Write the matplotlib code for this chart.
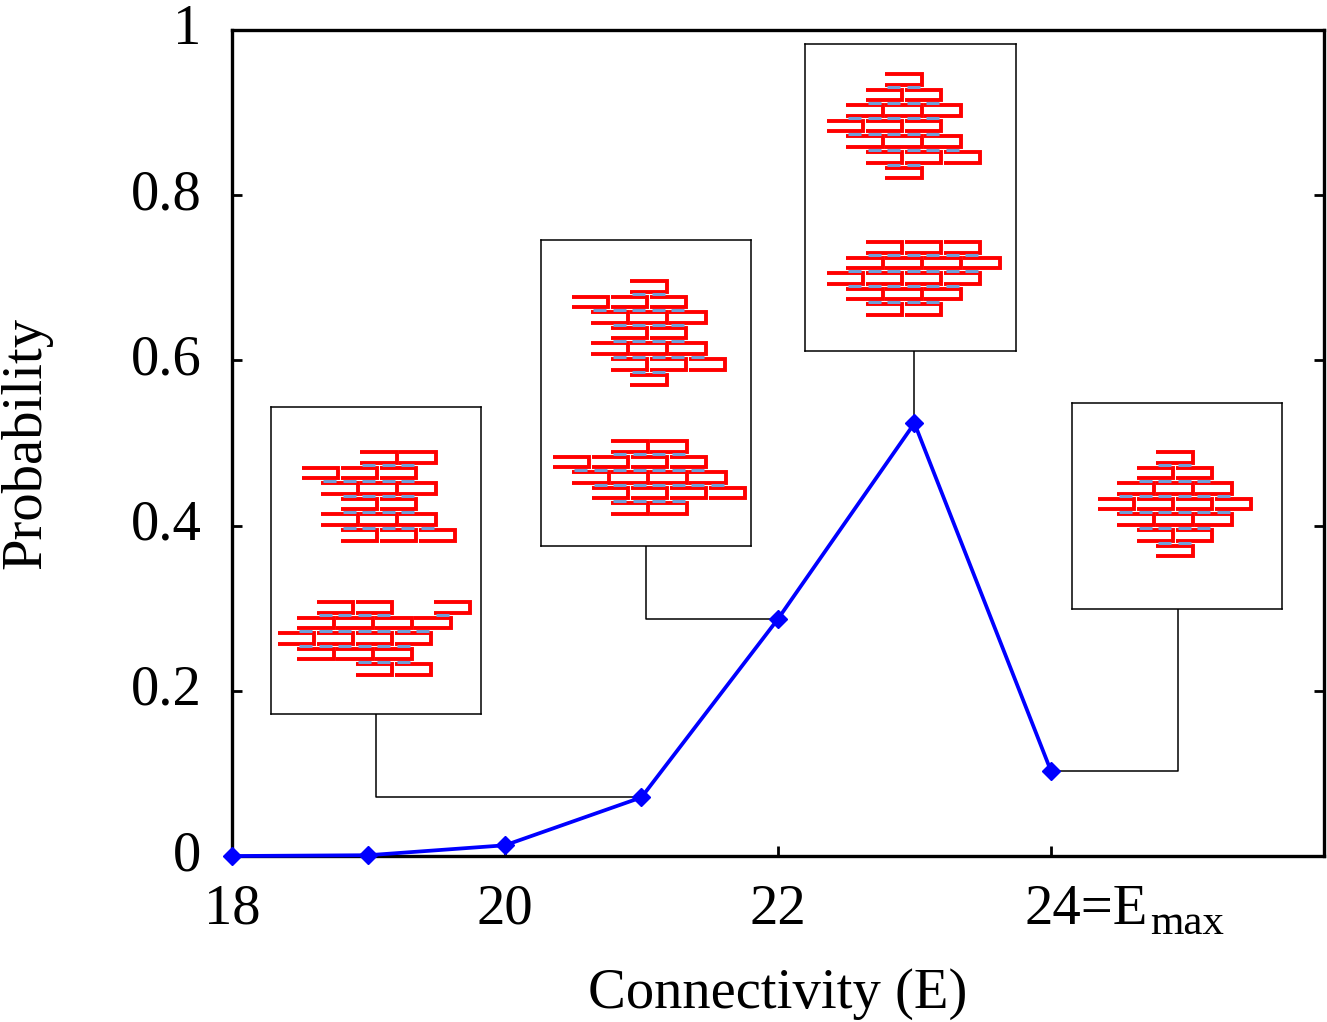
import matplotlib
matplotlib.use("Agg")
import matplotlib.pyplot as plt
from matplotlib.transforms import ScaledTranslation

plt.rcParams["font.family"] = ["Liberation Serif", "DejaVu Serif"]

# probability of each connectivity value
conn = [18, 19, 20, 21, 22, 23, 24]
prob = [0.0, 0.001, 0.013, 0.071, 0.287, 0.524, 0.103]

xticks = [18, 20, 22, 24]
xtick_labels = ["18", "20", "22", "24=E"]
emax_sub = "max"
yticks = [0, 0.2, 0.4, 0.6, 0.8, 1]
ytick_labels = ["0", "0.2", "0.4", "0.6", "0.8", "1"]

# brick layouts: start column of each brick (half-brick units), row by row
bricks_21_top = [[3, 5], [0, 2, 4], [1, 3, 5], [2, 4], [1, 3, 5], [2, 4, 6]]
bricks_21_bot = [[2, 4, 8], [1, 3, 5, 7], [0, 2, 4, 6], [1, 3, 5], [4, 6]]
bricks_22_top = [[3], [0, 2, 4], [1, 3, 5], [2, 4], [1, 3, 5], [2, 4, 6], [3]]
bricks_22_bot = [[3, 5], [0, 2, 4, 6], [1, 3, 5, 7], [2, 4, 6, 8], [3, 5]]
bricks_23_top = [[3], [2, 4], [1, 3, 5], [0, 2, 4], [1, 3, 5], [2, 4, 6], [3]]
bricks_23_bot = [[2, 4, 6], [1, 3, 5, 7], [0, 2, 4, 6], [1, 3, 5], [2, 4]]
bricks_24 = [[3], [2, 4], [1, 3, 5], [0, 2, 4, 6], [1, 3, 5], [2, 4], [3]]

# brick geometry in pixels
HALF = 19.5
BW = 36.5
BH = 10.5
PITCH = 15.6
BOND = 13.0
PX = 1092 / 8.0   # pixels per x unit
PY = 826 / 1.0    # pixels per y unit

# inset: (E, box [x0, y0, w, h] in data, elbow x, [(layout, dx, dy)])
insets = [
    (21, [18.286, 0.1719, 1.5385, 0.3717], 19.055,
     [(bricks_21_top, 31, 45), (bricks_21_bot, 7, 195)]),
    (22, [20.264, 0.3753, 1.5385, 0.3705], 21.033,
     [(bricks_22_top, 31, 41), (bricks_22_bot, 12, 201)]),
    (23, [22.198, 0.6114, 1.5458, 0.3717], 23.0,
     [(bricks_23_top, 22, 30), (bricks_23_bot, 22, 198)]),
    (24, [24.154, 0.2990, 1.5385, 0.2494], 24.93,
     [(bricks_24, 26, 49)]),
]


def draw_bricks(iax, rows, dx, dy):
    for r, row in enumerate(rows):
        y0 = dy + r * PITCH
        for c in row:
            x0 = dx + c * HALF
            iax.plot([x0, x0 + BW, x0 + BW, x0], [y0, y0, y0 + BH, y0 + BH],
                     color="#ff0000", lw=2.8, solid_joinstyle="miter",
                     solid_capstyle="butt", zorder=2)
        if r + 1 < len(rows):
            yb = y0 + BH + 2.6
            for c1 in row:
                for c2 in rows[r + 1]:
                    if abs(c1 - c2) == 1:
                        mid = dx + (max(c1, c2) * HALF + min(c1, c2) * HALF + BW) / 2
                        iax.plot([mid - BOND / 2, mid + BOND / 2], [yb, yb],
                                 color="#6f9fd8", lw=2.2, solid_capstyle="butt",
                                 zorder=3)


fig = plt.figure(figsize=(13.27, 10.22), dpi=100)
ax = fig.add_axes([0.1748, 0.1624, 0.8229, 0.8082])

ax.plot(conn, prob, color="#0000ff", lw=2.7, marker="D", ms=9.5,
        clip_on=False, zorder=5)

for e, box, ex, parts in insets:
    x0, y0, w, h = box
    yp = prob[conn.index(e)]
    ax.plot([ex, ex, e], [y0, yp, yp], color="black", lw=1.1, zorder=2)
    iax = ax.inset_axes(box, transform=ax.transData, zorder=3)
    iax.set_xlim(0, w * PX)
    iax.set_ylim(h * PY, 0)
    iax.set_xticks([])
    iax.set_yticks([])
    for s in iax.spines.values():
        s.set_linewidth(1.1)
    for rows, dx, dy in parts:
        draw_bricks(iax, rows, dx, dy)

ax.set_xlim(18, 26)
ax.set_ylim(0, 1)
ax.set_xticks(xticks)
ax.set_xticklabels(xtick_labels)
ax.set_yticks(yticks)
ax.set_yticklabels(ytick_labels)
for s in ax.spines.values():
    s.set_linewidth(2.4)
ax.tick_params(direction="in", length=7, width=2, right=True, top=False,
               labelsize=40.8)
ax.tick_params(axis="x", pad=20)
ax.tick_params(axis="y", pad=22)

up = ScaledTranslation(0, 0.06, fig.dpi_scale_trans)
for lab in ax.get_yticklabels():
    lab.set_transform(lab.get_transform() + up)

# keep "24" centred on its tick, the rest runs to the right
lab = ax.get_xticklabels()[-1]
lab.set_ha("left")
lab.set_transform(lab.get_transform() + ScaledTranslation(-0.26, 0, fig.dpi_scale_trans))
ax.text(24, 0, emax_sub, fontsize=31, ha="left", va="baseline",
        transform=ax.transData + ScaledTranslation(0.995, -0.775, fig.dpi_scale_trans))

ax.set_xlabel("Connectivity (E)", fontsize=40.8)
ax.set_ylabel("Probability", fontsize=40.8)
ax.xaxis.set_label_coords(0.5, -0.136)
ax.yaxis.set_label_coords(-0.164, 0.5)

fig.savefig("out.png", dpi=100)
